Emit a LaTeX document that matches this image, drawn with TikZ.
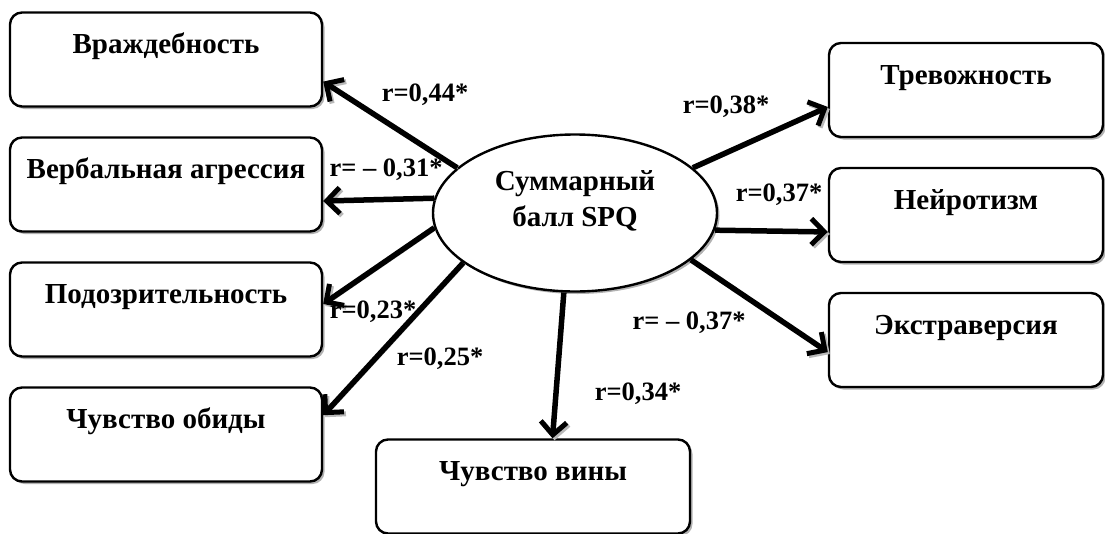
\documentclass[tikz,border=0pt]{standalone}
\usepackage{fontspec}
\setmainfont{Liberation Serif}
\usepackage{tikz}
\usetikzlibrary{positioning}
\usetikzlibrary{arrows.meta,shapes.geometric,shadows}
\tikzset{edge/.style = {-{Straight Barb[length=13pt,width=26pt,line width=5pt]},line width=5.5pt,
    preaction={draw=gray!55,transform canvas={shift={(2pt,-2pt)}}}}}

\begin{document}
\begin{tikzpicture}[x=1pt,y=-1pt,node distance=125pt,
    box node/.style={rectangle,draw,line width=2.4pt,rounded corners=12pt,fill=white,
      drop shadow={shadow xshift=2.5pt,shadow yshift=-2.5pt,fill=gray!60,opacity=1},
      inner xsep=0pt,inner ysep=0pt,text height=41pt,text depth=53pt,
      font=\fontsize{29}{33}\selectfont\bfseries},
    main node/.style={ellipse,draw,line width=2.4pt,fill=white,minimum width=284pt,minimum height=157pt,
      drop shadow={shadow xshift=2.5pt,shadow yshift=-2.5pt,fill=gray!60,opacity=1},
      align=center,font=\fontsize{29}{36}\selectfont\bfseries},
    corr/.style={font=\fontsize{26.5}{30}\selectfont\bfseries,inner sep=0pt}]
  \useasboundingbox (0,0) rectangle (1105,533);
                    \node[main node] (spq) at (575,213) {Суммарный\\балл SPQ\\[-8pt]};
                    \node[box node,minimum width=312pt] (hostil) at (166,59.5) {Враждебность};
                    \node[box node,minimum width=312pt] (verbal) [below of=hostil] {Вербальная агрессия};
                    \node[box node,minimum width=312pt] (suspic) [below of=verbal] {Подозрительность};
                    \node[box node,minimum width=312pt] (resent) [below of=suspic] {Чувство обиды};
                    \node[box node,minimum width=314pt] (guilt) at (533,486.5) {Чувство вины};
                    \node[box node,minimum width=274pt] (anxiety) at (966,90) {Тревожность};
                    \node[box node,minimum width=274pt] (neuro) [below of=anxiety] {Нейротизм};
                    \node[box node,minimum width=274pt] (extra) [below of=neuro] {Экстраверсия};

                    \draw[edge] (spq.159.5) -- (hostil.-8.6);
                    \draw[edge] (spq.174.7) -- (verbal.-6);
                    \draw[edge] (spq.186.8) -- (suspic.2.4);
                    \draw[edge] (spq.204) -- (resent.7.5);
                    \draw[edge] (spq.262.9) -- (guilt.68.6);
                    \draw[edge] (spq.21.4) -- (anxiety.187);
                    \draw[edge] (spq.-7.6) -- (neuro.187.2);
                    \draw[edge] (spq.-22.2) -- (extra.185.4);

                    \node[corr] (r1) at (425,95) {r=0,44*};
                    \node[corr] (r2) at (386,170) {r= – 0,31*};
                    \node[corr] (r3) at (373,312) {r=0,23*};
                    \node[corr] (r4) at (440,359) {r=0,25*};
                    \node[corr] (r5) at (638,394) {r=0,34*};
                    \node[corr] (r6) at (726,107) {r=0,38*};
                    \node[corr] (r7) at (779,195) {r=0,37*};
                    \node[corr] (r8) at (689,323) {r= – 0,37*};
                \end{tikzpicture}
\end{document}
